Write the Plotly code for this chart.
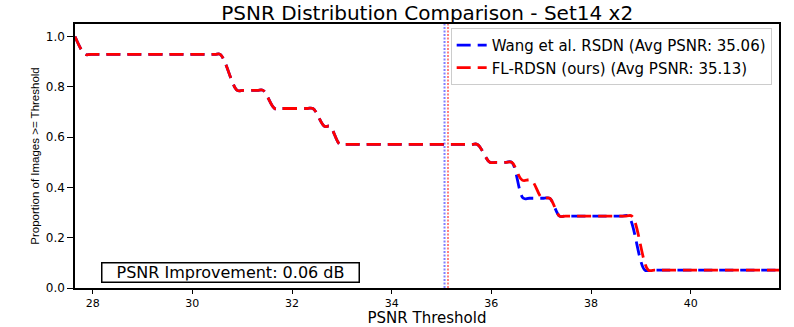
import plotly.graph_objects as go

# ---- data (curve points, plateau shoulders included) ----
wang_x = [27.645, 27.85, 27.97, 30.44, 30.56, 30.90, 31.02, 31.30, 31.42, 31.65, 31.77,
          32.30, 32.42, 32.65, 32.76, 32.96, 33.08, 35.60, 35.72, 35.97, 36.09,
          36.29, 36.41, 36.64, 36.76, 37.05, 37.17, 37.37, 37.49, 38.63, 38.75,
          39.08, 39.20, 41.772]
wang_y = [1.0, 0.929, 0.929, 0.929, 0.929, 0.786, 0.786, 0.786, 0.786, 0.714, 0.714,
          0.714, 0.714, 0.643, 0.643, 0.571, 0.571, 0.571, 0.571, 0.5, 0.5,
          0.5, 0.5, 0.357, 0.357, 0.357, 0.357, 0.286, 0.286, 0.286, 0.286,
          0.071, 0.071, 0.071]

ours_x = [27.645, 27.85, 27.97, 30.44, 30.56, 30.90, 31.02, 31.30, 31.42, 31.65, 31.77,
          32.30, 32.42, 32.65, 32.76, 32.96, 33.08, 35.60, 35.72, 35.97, 36.09,
          36.29, 36.41, 36.62, 36.80, 37.02, 37.17, 37.37, 37.49, 38.70, 38.82,
          39.15, 39.27, 41.772]
ours_y = [1.0, 0.929, 0.929, 0.929, 0.929, 0.786, 0.786, 0.786, 0.786, 0.714, 0.714,
          0.714, 0.714, 0.643, 0.643, 0.571, 0.571, 0.571, 0.571, 0.5, 0.5,
          0.5, 0.5, 0.429, 0.429, 0.357, 0.357, 0.286, 0.286, 0.286, 0.286,
          0.071, 0.071, 0.071]

avg_wang = 35.06
avg_ours = 35.13
improvement = 0.06

x_ticks = [28, 30, 32, 34, 36, 38, 40]
y_ticks = [0.0, 0.2, 0.4, 0.6, 0.8, 1.0]
x_range = [27.645, 41.772]
y_range = [0.0, 1.05]

FONT = "DejaVu Sans"

fig = go.Figure()
fig.add_trace(go.Scatter(
    x=wang_x, y=wang_y, mode="lines",
    name=f"Wang et al. RSDN (Avg PSNR: {avg_wang:.2f})",
    line=dict(color="#0000ff", width=2.8, dash="14px,7px", shape="spline", smoothing=1.0),
))
fig.add_trace(go.Scatter(
    x=ours_x, y=ours_y, mode="lines",
    name=f"FL-RDSN (ours) (Avg PSNR: {avg_ours:.2f})",
    line=dict(color="#ff0000", width=2.8, dash="14px,7px", shape="spline", smoothing=1.0),
))

fig.add_shape(type="line", x0=avg_wang, x1=avg_wang, y0=0, y1=1, xref="x", yref="paper",
              line=dict(color="rgba(0,0,255,0.5)", width=2, dash="2px,1.5px"))
fig.add_shape(type="line", x0=avg_ours, x1=avg_ours, y0=0, y1=1, xref="x", yref="paper",
              line=dict(color="rgba(255,0,0,0.5)", width=2, dash="2px,1.5px"))

fig.add_annotation(
    text=f"PSNR Improvement: {improvement:.2f} dB",
    xref="paper", yref="paper", x=0.0365, y=0.018, xanchor="left", yanchor="bottom",
    showarrow=False, font=dict(family=FONT, size=16, color="black"),
    bgcolor="white", bordercolor="black", borderwidth=1.5, borderpad=1,
    width=254, height=16,
)

fig.update_layout(
    width=794, height=327,
    margin=dict(l=75, r=15, t=24, b=39, autoexpand=False),
    paper_bgcolor="white", plot_bgcolor="white",
    font=dict(family=FONT, color="black"),
    title=dict(text="PSNR Distribution Comparison - Set14 x2",
               x=0.538, xanchor="center", y=1 - 13 / 327, yanchor="middle",
               font=dict(family=FONT, size=20, color="black")),
    showlegend=True,
    legend=dict(x=0.9896, xanchor="right", y=0.985, yanchor="top",
                bgcolor="rgba(255,255,255,0.8)", bordercolor="#cccccc", borderwidth=1,
                font=dict(family=FONT, size=15, color="black"),
                itemwidth=30, tracegroupgap=0),
)
fig.update_xaxes(
    range=x_range, tickvals=x_ticks, ticktext=[str(v) for v in x_ticks],
    showgrid=False, zeroline=False, showline=True, linecolor="black", linewidth=1.5,
    mirror=True, ticks="outside", ticklen=4, tickwidth=1.2, tickcolor="black",
    tickfont=dict(family=FONT, size=11), automargin=False,
    title=dict(text="PSNR Threshold", font=dict(family=FONT, size=15), standoff=4),
)
fig.update_yaxes(
    range=y_range, tickvals=y_ticks, ticktext=[f"{v:.1f}" for v in y_ticks],
    showgrid=False, zeroline=False, showline=True, linecolor="black", linewidth=1.5,
    mirror=True, ticks="outside", ticklen=6, tickwidth=1.2, tickcolor="black",
    tickfont=dict(family=FONT, size=12), automargin=False,
    title=dict(text="Proportion of Images >= Threshold",
               font=dict(family="Liberation Sans", size=11.5), standoff=4),
)

fig.write_html("out.html")
